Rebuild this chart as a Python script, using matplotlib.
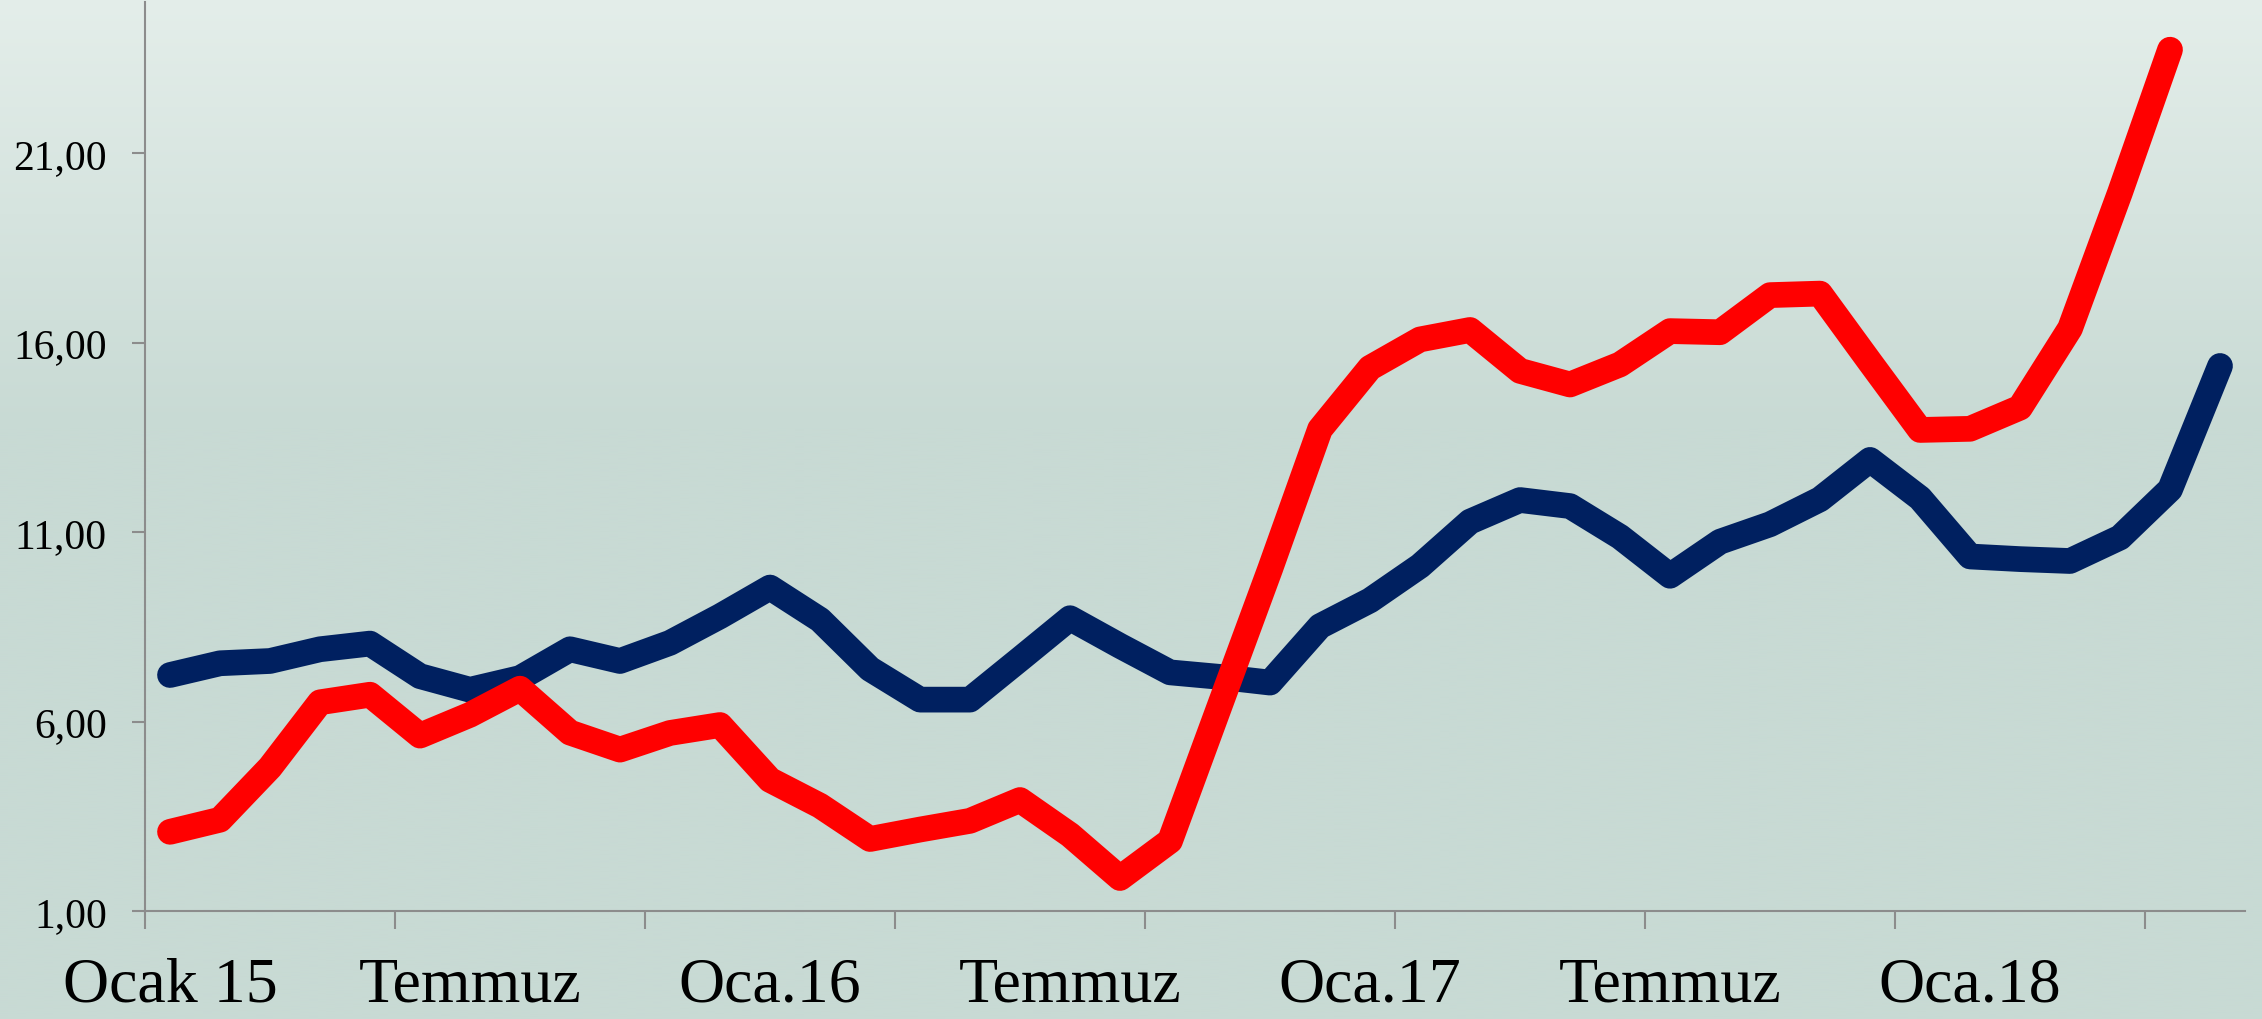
import matplotlib
matplotlib.use('Agg')
import matplotlib.pyplot as plt
import numpy as np

plt.rcParams['font.family'] = ['Liberation Serif', 'DejaVu Serif']

# monthly values, Ocak 2015 onwards
navy_vals = [7.23, 7.54, 7.60, 7.91, 8.06, 7.20, 6.84, 7.15, 7.91, 7.60,
             8.08, 8.78, 9.54, 8.69, 7.39, 6.58, 6.58, 7.65, 8.73, 8.00,
             7.30, 7.18, 7.03, 8.52, 9.20, 10.11, 11.28, 11.85, 11.69, 10.88,
             9.85, 10.75, 11.21, 11.87, 12.91, 11.90, 10.36, 10.29, 10.24, 10.86,
             12.13, 15.39]
red_vals = [3.09, 3.41, 4.79, 6.51, 6.71, 5.63, 6.18, 6.87, 5.71, 5.26,
            5.70, 5.91, 4.46, 3.78, 2.90, 3.15, 3.38, 3.93, 3.01, 1.87,
            2.85, 6.44, 10.02, 13.72, 15.34, 16.09, 16.34, 15.26, 14.90, 15.43,
            16.31, 16.28, 17.26, 17.30, 15.49, 13.70, 13.73, 14.29, 16.38, 19.97,
            23.74]

x_labels = ['Ocak 15', 'Temmuz', 'Oca.16', 'Temmuz', 'Oca.17', 'Temmuz', 'Oca.18']
x_label_pos = [0, 6, 12, 18, 24, 30, 36]
y_ticks = [1, 6, 11, 16, 21]
y_labels = ['1,00', '6,00', '11,00', '16,00', '21,00']

fig = plt.figure(figsize=(22.62, 10.20), dpi=100)

# background gradient over the whole figure
bg = fig.add_axes([0, 0, 1, 1], zorder=0)
t = np.clip(np.linspace(0, 1, 600) / 0.42, 0, 1)
top_c = np.array([228, 238, 234]) / 255
bot_c = np.array([200, 218, 212]) / 255
img = top_c[None, :] * (1 - t[:, None]) + bot_c[None, :] * t[:, None]
bg.imshow(img[:, None, :], aspect='auto', extent=[0, 1, 0, 1], origin='upper')
bg.axis('off')

ax = fig.add_axes([0.0641, 0.1059, 0.9284, 0.8912], zorder=1)
ax.patch.set_alpha(0)

ax.plot(np.arange(len(navy_vals)), navy_vals, color='#002060', lw=18.5,
        solid_capstyle='round', solid_joinstyle='round')
ax.plot(np.arange(len(red_vals)), red_vals, color='#ff0000', lw=18.5,
        solid_capstyle='round', solid_joinstyle='round')

ax.set_xlim(-0.5, 41.5)
ax.set_ylim(1, 25)

ax.set_xticks(np.arange(-0.5, 42, 5))
ax.set_xticklabels([])
ax.set_xticks(x_label_pos, minor=True)
ax.set_xticklabels(x_labels, minor=True, fontsize=46)
ax.tick_params(axis='x', which='major', length=13, width=1.5, color='#8c8c8c')
ax.tick_params(axis='x', which='minor', length=0, pad=33)

ax.set_yticks(y_ticks)
ax.set_yticklabels(y_labels, fontsize=30)
ax.tick_params(axis='y', which='major', length=9.4, width=1.5, color='#8c8c8c', pad=18)

for s in ['top', 'right']:
    ax.spines[s].set_visible(False)
for s in ['left', 'bottom']:
    ax.spines[s].set_color('#8c8c8c')
    ax.spines[s].set_linewidth(1.5)

fig.savefig('out.png', dpi=100)
